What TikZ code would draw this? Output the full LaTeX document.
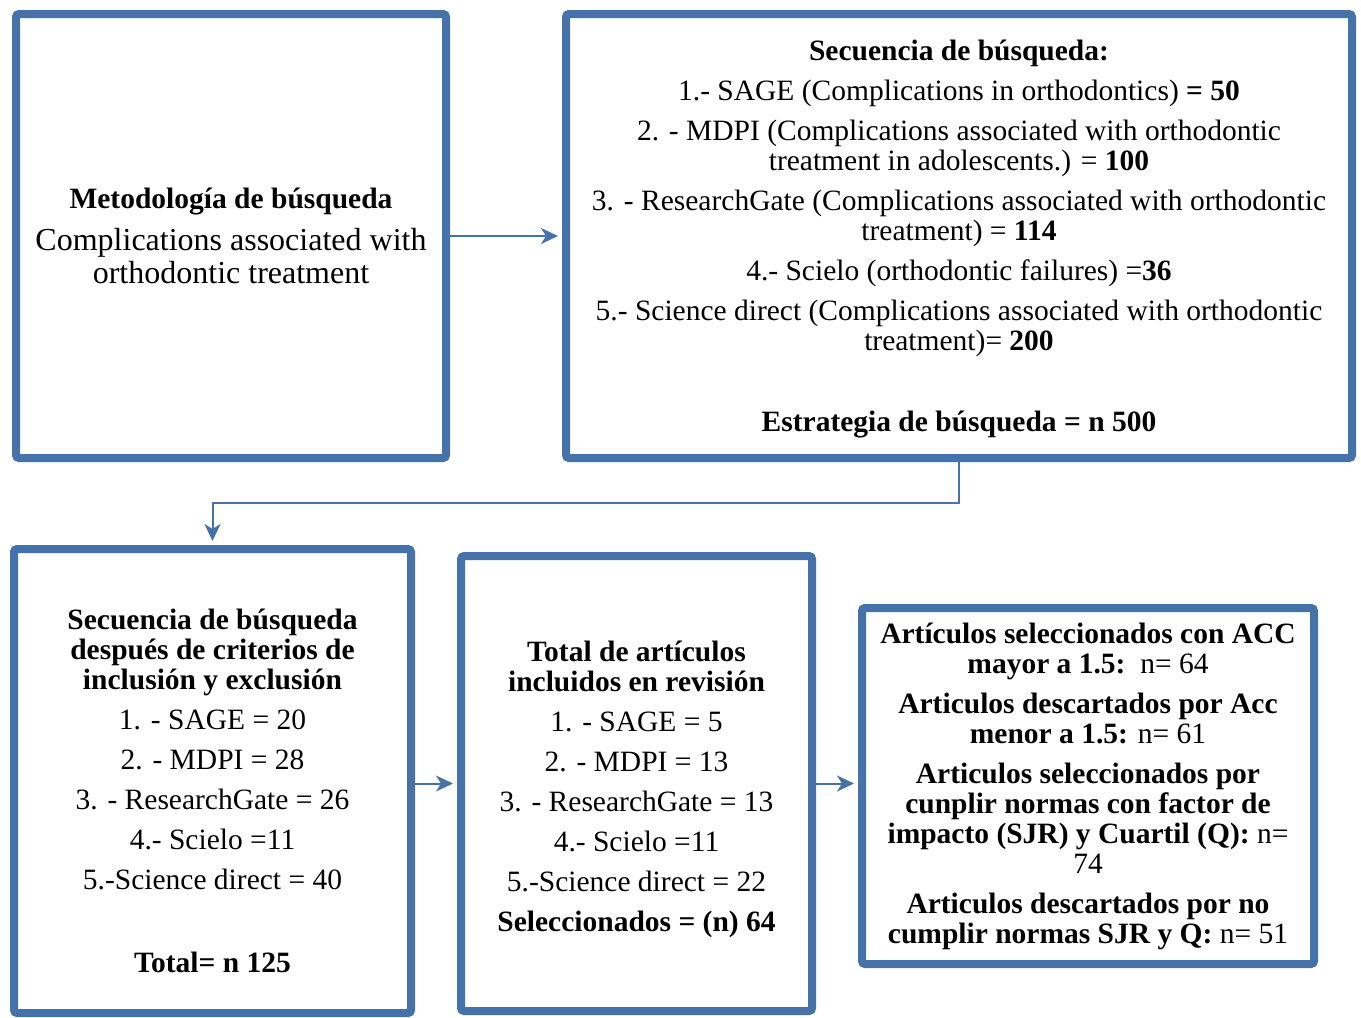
\documentclass[tikz,border=0pt]{standalone}
\usepackage{fontspec}
\setmainfont{Liberation Serif}
\usepackage{tikz}
\usetikzlibrary{positioning,shadows,arrows.meta}

\definecolor{azulborde}{RGB}{70,114,170}

\begin{document}
\begin{tikzpicture}[x=1pt, y=-1pt,
    caja/.style={draw=azulborde, line width=8pt, fill=white, rounded corners=3pt,
      align=center, font=\fontsize{29.5}{30}\selectfont, inner sep=0pt,
      drop shadow={shadow xshift=3pt, shadow yshift=-3pt, opacity=0.25, fill=gray}},
    flecha/.style={draw=azulborde, line width=2pt,
      -{Stealth[length=17pt, width=16pt, inset=5pt]}, shorten >=4pt}]
    \useasboundingbox (0,0) rectangle (1361,1018);

    % Cajas
    \node (metodo) [caja, minimum width=430pt, minimum height=444pt,
      font=\fontsize{32}{33}\selectfont] at (231,236)
      {{\bfseries\fontsize{29.5}{33}\selectfont Metodología de búsqueda}\\[9pt]
       Complications associated with\\ orthodontic treatment};
    \node (busqueda) [caja, minimum width=786pt, minimum height=444pt, right=112pt of metodo]
      {\rule{0pt}{27pt}\textbf{Secuencia de búsqueda:}\\[10pt]
       1.- SAGE (Complications in orthodontics) \textbf{= 50}\\[10pt]
       2. - MDPI (Complications associated with orthodontic\\
       treatment in adolescents.) = \textbf{100}\\[10pt]
       3. - ResearchGate (Complications associated with orthodontic\\
       treatment) = \textbf{114}\\[10pt]
       4.- Scielo (orthodontic failures) =\textbf{36}\\[10pt]
       5.- Science direct (Complications associated with orthodontic\\
       treatment)= \textbf{200}\\[51pt]
       \textbf{Estrategia de búsqueda = n 500}};
    \node (seleccion) [caja, minimum width=397pt, minimum height=464pt] at (212.5,781)
      {\rule{0pt}{40pt}\textbf{Secuencia de búsqueda}\\
       \textbf{después de criterios de}\\
       \textbf{inclusión y exclusión}\\[10pt]
       1. - SAGE = 20\\[10pt]
       2. - MDPI = 28\\[10pt]
       3. - ResearchGate = 26\\[10pt]
       4.- Scielo =11\\[10pt]
       5.-Science direct = 40\\[53pt]
       \textbf{Total= n 125}};
    \node (revision) [caja, minimum width=351pt, minimum height=455pt,
      right=42pt of seleccion, yshift=-2.5pt]
      {\rule{0pt}{32pt}\textbf{Total de artículos}\\
       \textbf{incluidos en revisión}\\[10pt]
       1. - SAGE = 5\\[10pt]
       2. - MDPI = 13\\[10pt]
       3. - ResearchGate = 13\\[10pt]
       4.- Scielo =11\\[10pt]
       5.-Science direct = 22\\[10pt]
       \textbf{Seleccionados = (n) 64}};
    \node (criterios) [caja, minimum width=452pt, minimum height=356pt,
      right=42pt of revision, yshift=-2.5pt]
      {\textbf{Artículos seleccionados con ACC}\\
       \textbf{mayor a 1.5:}~~n= 64\\[10pt]
       \textbf{Articulos descartados por Acc}\\
       \textbf{menor a 1.5:} n= 61\\[10pt]
       \textbf{Articulos seleccionados por}\\
       \textbf{cunplir normas con factor de}\\
       \textbf{impacto (SJR) y Cuartil (Q):} n=\\
       74\\[10pt]
       \textbf{Articulos descartados por no}\\
       \textbf{cumplir normas SJR y Q:} n= 51};

    % Flechas
    \draw[flecha] (metodo) -- (busqueda);
    \draw[flecha] (busqueda.south) -- ++(0,41) -| (seleccion.north);
    \draw[flecha] (seleccion.east |- revision.west) -- (revision.west);
    \draw[flecha] (revision.east) -- (revision.east -| criterios.west);
\end{tikzpicture}
\end{document}
